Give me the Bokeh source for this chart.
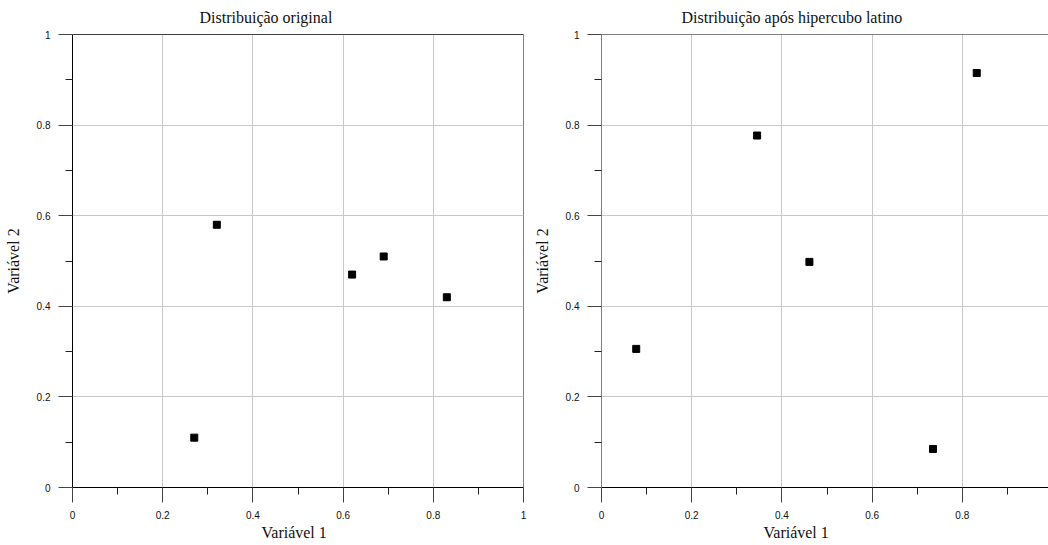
from bokeh.plotting import figure
from bokeh.layouts import row
from bokeh.models import FixedTicker, NumeralTickFormatter, Span, Title
from bokeh.embed import file_html
from bokeh.resources import INLINE

# Sample points before and after Latin hypercube sampling
orig_x = [0.32, 0.69, 0.62, 0.83, 0.27]
orig_y = [0.58, 0.51, 0.47, 0.42, 0.11]

lhs_x = [0.077, 0.345, 0.461, 0.735, 0.832]
lhs_y = [0.306, 0.777, 0.498, 0.085, 0.915]

major_ticks = [0, 0.2, 0.4, 0.6, 0.8, 1]
minor_ticks = [0.1, 0.3, 0.5, 0.7, 0.9]

title_left = "Distribuição original"
title_right = "Distribuição após hipercubo latino"
xlabel = "Variável 1"
ylabel = "Variável 2"

SERIF = "Liberation Serif"
SANS = "Liberation Sans"


def make_panel(xs, ys, title, width, border_left, border_right, x_end,
               title_offset, xlabel_offset, left_axis_color, outline_color):
    p = figure(width=width, height=545, x_range=(0, x_end), y_range=(0, 1),
               output_backend="svg", toolbar_location=None,
               min_border_left=border_left, min_border_right=border_right,
               min_border_top=34, min_border_bottom=58)
    p.title.text = title
    p.title.align = "left"
    p.title.vertical_align = "top"
    p.title.offset = title_offset
    p.title.text_font = SERIF
    p.title.text_font_size = "16px"
    p.title.text_font_style = "normal"
    p.title.text_color = "#111111"
    p.title.standoff = 13

    p.background_fill_color = "white"
    p.border_fill_color = "white"
    p.outline_line_color = outline_color
    p.outline_line_width = 1

    for ax in (p.xaxis[0], p.yaxis[0]):
        ax.ticker = FixedTicker(ticks=major_ticks, minor_ticks=minor_ticks)
        ax.formatter = NumeralTickFormatter(format="0.[0]")
        ax.major_tick_in = 0
        ax.minor_tick_in = 0
        ax.major_tick_out = 14
        ax.minor_tick_out = 7
        ax.major_tick_line_color = "#444444"
        ax.minor_tick_line_color = "#222222"
        ax.major_label_text_font = SANS
        ax.major_label_text_font_size = "10px"
        ax.major_label_text_color = "#111111"
        ax.major_label_standoff = 8

    p.xaxis.axis_line_color = "black"
    p.yaxis.axis_line_color = left_axis_color
    p.xaxis.major_tick_out = 15

    # y axis label on the axis itself
    p.yaxis.axis_label = ylabel
    p.yaxis.axis_label_text_font = SERIF
    p.yaxis.axis_label_text_font_size = "16px"
    p.yaxis.axis_label_text_font_style = "normal"
    p.yaxis.axis_label_text_color = "#111111"
    p.yaxis.axis_label_standoff = 12

    # x axis label as a bottom title so it can be placed freely
    p.add_layout(Title(text=xlabel, align="left", offset=xlabel_offset,
                       text_font=SERIF, text_font_size="16px",
                       text_font_style="normal", text_color="#111111",
                       standoff=0), "below")

    p.xgrid.grid_line_color = "#c8c8c8"
    p.ygrid.grid_line_color = "#c8c8c8"

    # black top edge of the frame
    p.add_layout(Span(location=1, dimension="width", line_color="black",
                      line_width=1))

    p.scatter(xs, ys, marker="square", size=7, color="black")
    return p


left = make_panel(orig_x, orig_y, title_left, width=530, border_left=72,
                  border_right=7, x_end=1.0, title_offset=127,
                  xlabel_offset=189, left_axis_color="black",
                  outline_color="#808080")
right = make_panel(lhs_x, lhs_y, title_right, width=518, border_left=71,
                   border_right=0, x_end=447 / 451, title_offset=80,
                   xlabel_offset=162, left_axis_color="#808080",
                   outline_color=None)

layout = row(left, right)
open("out.html", "w").write(file_html(layout, INLINE))
